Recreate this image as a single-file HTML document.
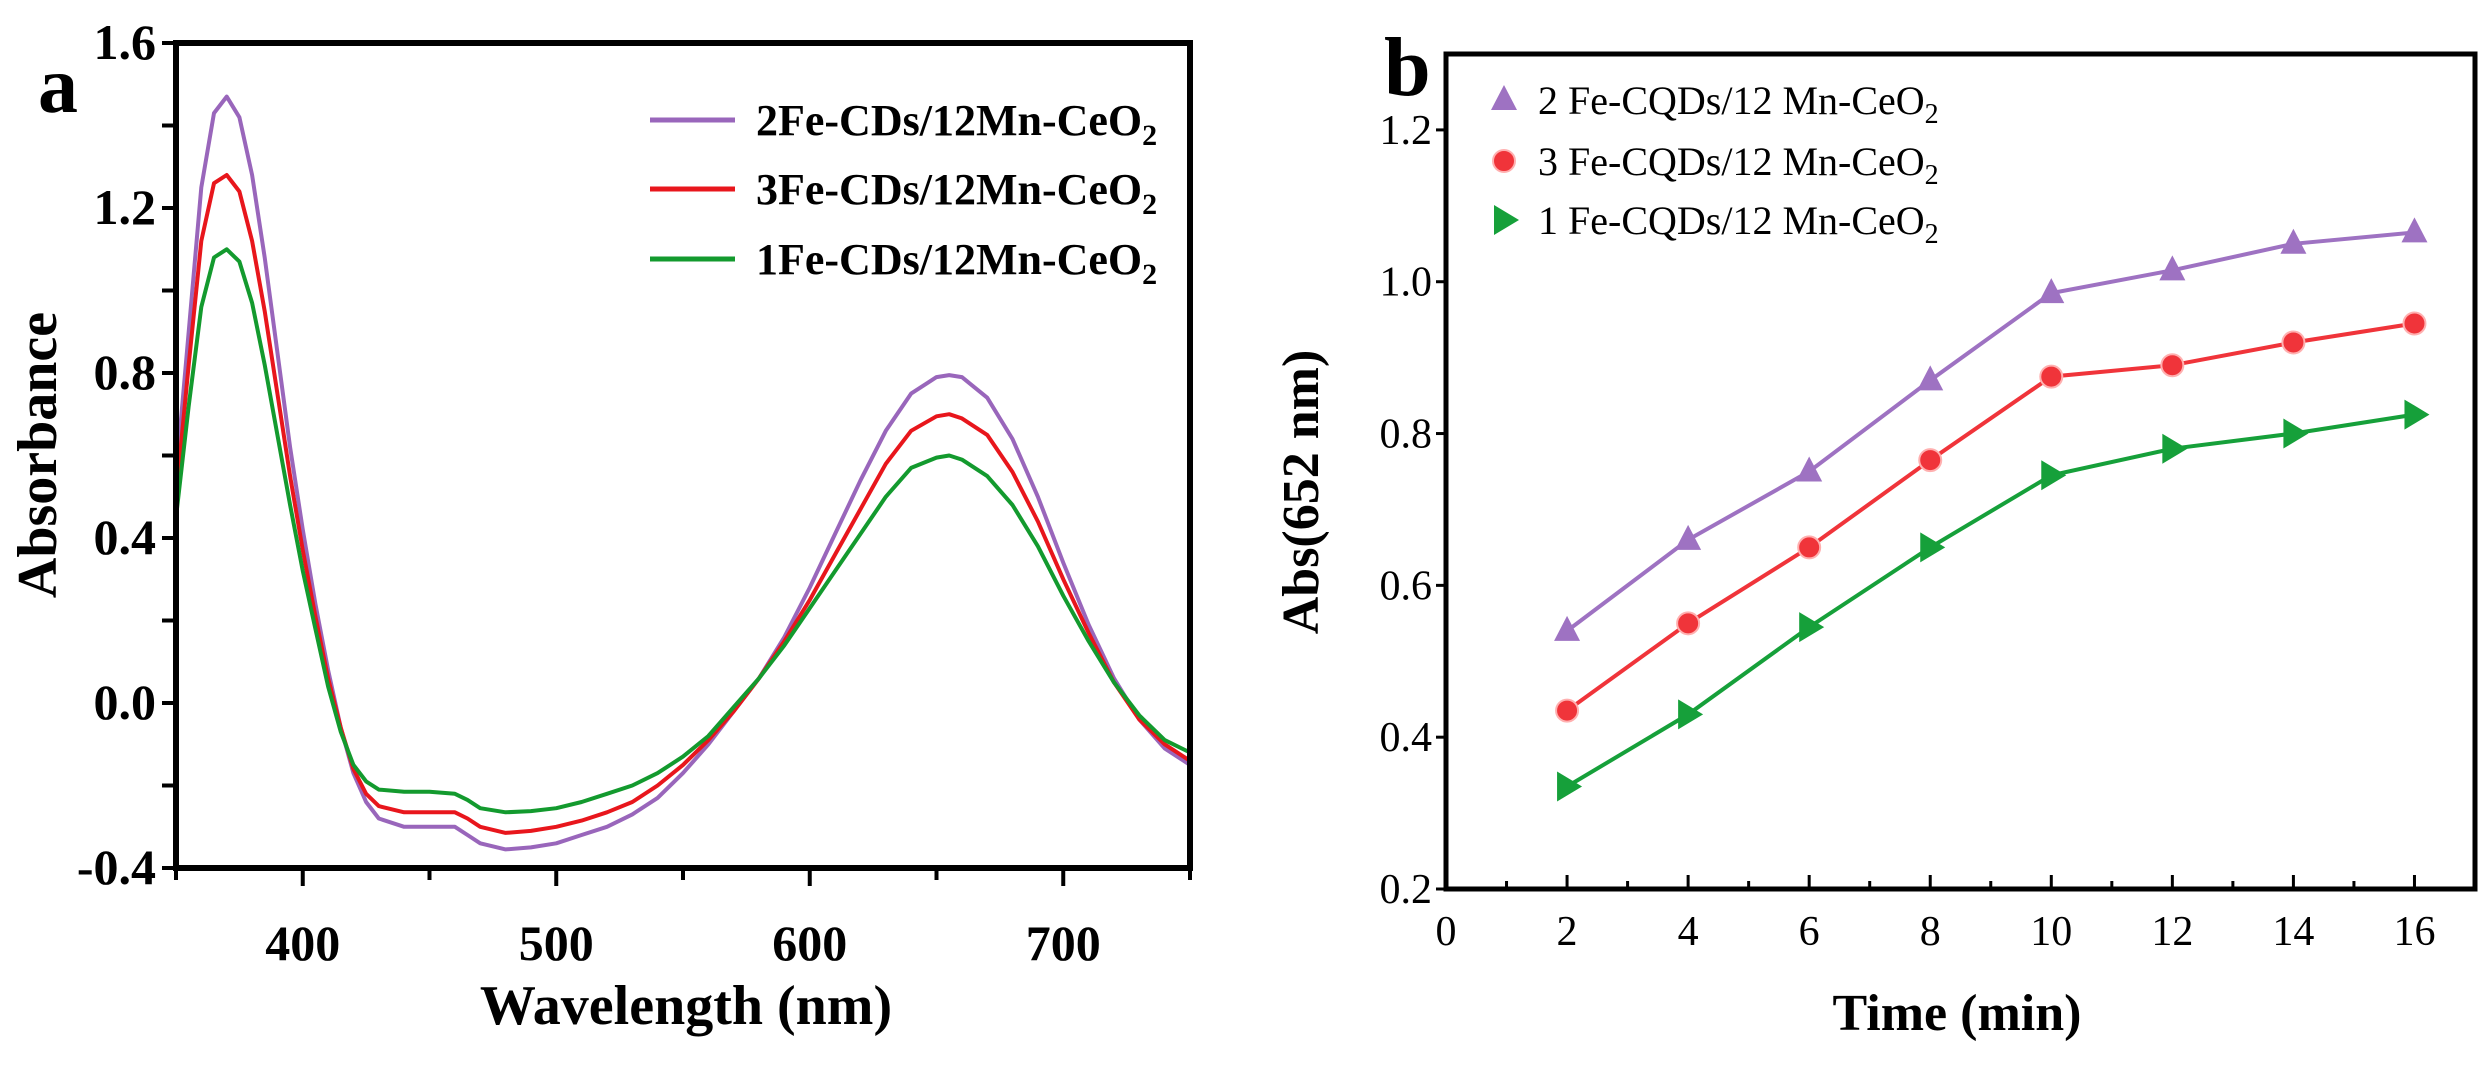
<!DOCTYPE html>
<html><head><meta charset="utf-8"><style>
body{margin:0;background:#fff}
svg{display:block;font-family:"Liberation Serif",serif}
</style></head><body>
<svg id="fig" width="2490" height="1067" viewBox="0 0 2490 1067">
<g id="pa"></g>
<g id="pb"></g>
</svg>
<script>
// ---------- Panel a data ----------
const wl = [350,355,360,365,370,375,380,385,390,395,400,405,410,415,420,425,430,440,450,460,465,470,480,490,500,510,520,530,540,550,560,570,580,590,600,610,620,630,640,650,655,660,670,680,690,700,710,720,730,740,750];
const absPurple = [0.55,0.9,1.25,1.43,1.47,1.42,1.28,1.08,0.85,0.62,0.42,0.24,0.08,-0.06,-0.17,-0.24,-0.28,-0.30,-0.30,-0.30,-0.32,-0.34,-0.355,-0.35,-0.34,-0.32,-0.30,-0.27,-0.23,-0.17,-0.10,-0.02,0.06,0.16,0.28,0.41,0.54,0.66,0.75,0.79,0.795,0.79,0.74,0.64,0.50,0.34,0.19,0.06,-0.04,-0.11,-0.15];
const absRed = [0.50,0.82,1.12,1.26,1.28,1.24,1.12,0.95,0.75,0.55,0.37,0.21,0.06,-0.06,-0.16,-0.22,-0.25,-0.265,-0.265,-0.265,-0.28,-0.30,-0.315,-0.31,-0.30,-0.285,-0.265,-0.24,-0.20,-0.15,-0.09,-0.02,0.06,0.15,0.25,0.36,0.47,0.58,0.66,0.695,0.70,0.69,0.65,0.56,0.44,0.30,0.17,0.05,-0.04,-0.10,-0.14];
const absGreen = [0.45,0.72,0.96,1.08,1.10,1.07,0.97,0.82,0.65,0.48,0.32,0.18,0.04,-0.07,-0.15,-0.19,-0.21,-0.215,-0.215,-0.22,-0.235,-0.255,-0.265,-0.262,-0.255,-0.24,-0.22,-0.20,-0.17,-0.13,-0.08,-0.01,0.06,0.14,0.23,0.32,0.41,0.50,0.57,0.595,0.60,0.59,0.55,0.48,0.38,0.26,0.15,0.05,-0.03,-0.09,-0.12];
const aXTicks = [400,500,600,700];
const aYTicks = [-0.4,0.0,0.4,0.8,1.2,1.6];
// ---------- Panel b data ----------
const times = [2,4,6,8,10,12,14,16];
const b2Fe = [0.54,0.66,0.75,0.87,0.985,1.015,1.05,1.065];
const b3Fe = [0.435,0.55,0.65,0.765,0.875,0.89,0.92,0.945];
const b1Fe = [0.335,0.43,0.545,0.65,0.745,0.78,0.80,0.825];
const bXTicks = [0,2,4,6,8,10,12,14,16];
const bYTicks = [0.2,0.4,0.6,0.8,1.0,1.2];

const NS="http://www.w3.org/2000/svg";
function mk(parent,tag,attrs,text){const e=document.createElementNS(NS,tag);for(const k in attrs)e.setAttribute(k,attrs[k]);if(text!==undefined)e.textContent=text;parent.appendChild(e);return e;}

// ===== Panel a =====
const pa=document.getElementById('pa');
const aL=176,aR=1190,aT=43,aB=868;
const ax=v=>aL+(v-350)/(750-350)*(aR-aL);
const ay=v=>aB-(v+0.4)/(2.0)*(aB-aT);
const aSeries=[[absPurple,'#9966bb','series-2fe'],[absRed,'#e8161c','series-3fe'],[absGreen,'#139a2e','series-1fe']];
aSeries.forEach(s=>{
  const d=wl.map((w,i)=>(i?'L':'M')+ax(w).toFixed(1)+','+ay(s[0][i]).toFixed(1)).join(' ');
  const p=mk(pa,'path',{d:d,fill:'none',stroke:s[1],'stroke-width':4,'stroke-linejoin':'round'});
  
  
});
mk(pa,'rect',{x:aL,y:aT,width:aR-aL,height:aB-aT,fill:'none',stroke:'#000','stroke-width':6,});
for(let w=350;w<=750;w+=50){const t=mk(pa,'line',{x1:ax(w),x2:ax(w),y1:aB,y2:aB+(w%100===0?18:12),stroke:'#000','stroke-width':4});}
aXTicks.forEach(w=>{const t=mk(pa,'text',{x:ax(w),y:aB+92,'font-size':50,'font-weight':'bold','text-anchor':'middle'},String(w));});
for(let v=-0.4;v<=1.61;v+=0.2){const t=mk(pa,'line',{x1:aL-14,x2:aL,y1:ay(v),y2:ay(v),stroke:'#000','stroke-width':4});}
aYTicks.forEach(v=>{const t=mk(pa,'text',{x:aL-20,y:ay(v)+16,'font-size':50,'font-weight':'bold','text-anchor':'end'},(v<0?'-':'')+Math.abs(v).toFixed(1));});
mk(pa,'text',{x:686,y:1024,'font-size':56,'font-weight':'bold','text-anchor':'middle',},'Wavelength (nm)');
mk(pa,'text',{x:0,y:0,'font-size':56,'font-weight':'bold','text-anchor':'middle',transform:'translate(56,455) rotate(-90)',},'Absorbance');
mk(pa,'text',{x:38,y:112,'font-size':80,'font-weight':'bold',},'a');
const aLeg=[['2Fe-CDs/12Mn-CeO','#9966bb',120],['3Fe-CDs/12Mn-CeO','#e8161c',189],['1Fe-CDs/12Mn-CeO','#139a2e',259]];
aLeg.forEach(l=>{
  const g=mk(pa,'g',{});
  
  
  mk(g,'line',{x1:650,x2:735,y1:l[2],y2:l[2],stroke:l[1],'stroke-width':5});
  const t=mk(g,'text',{x:756,y:l[2]+15,'font-size':44,'font-weight':'bold'},l[0]);
  mk(t,'tspan',{'font-size':30,dy:10},'2');
});

// ===== Panel b =====
const pb=document.getElementById('pb');
const bL=1446,bR=2475,bT=54,bB=889;
const bx=v=>bL+v/17*(bR-bL);
const by=v=>bB-(v-0.2)/1.1*(bB-bT);
const bSeries=[[b2Fe,'#9e72c2','tri','series-2fe'],[b3Fe,'#f0343a','circ','series-3fe'],[b1Fe,'#16a03a','right','series-1fe']];
function marker(g,type,x,y,c){
  if(type==='tri')return mk(g,'polygon',{points:`${x},${y-15} ${x-13},${y+10} ${x+13},${y+10}`,fill:c});
  if(type==='circ')return mk(g,'circle',{cx:x,cy:y,r:11,fill:c,stroke:'#ffb0b0','stroke-width':2});
  return mk(g,'polygon',{points:`${x-10},${y-15} ${x+15},${y} ${x-10},${y+15}`,fill:c});
}
bSeries.forEach(s=>{
  const g=mk(pb,'g',{});
  
  
  const pts=times.map((t,i)=>bx(t).toFixed(1)+','+by(s[0][i]).toFixed(1)).join(' ');
  mk(g,'polyline',{points:pts,fill:'none',stroke:s[1],'stroke-width':4});
  times.forEach((t,i)=>{const m=marker(g,s[2],bx(t),by(s[0][i]),s[1]);});
});
mk(pb,'rect',{x:bL,y:bT,width:bR-bL,height:bB-bT,fill:'none',stroke:'#000','stroke-width':5,});
for(let t=0;t<=17;t+=1){const l=mk(pb,'line',{x1:bx(t),x2:bx(t),y1:bB,y2:bB-(t%2===0?14:8),stroke:'#000','stroke-width':3});}
bXTicks.forEach(t=>{const e=mk(pb,'text',{x:bx(t),y:945,'font-size':42,'text-anchor':'middle'},String(t));});
bYTicks.forEach(v=>{
  const l=mk(pb,'line',{x1:bL-10,x2:bL,y1:by(v),y2:by(v),stroke:'#000','stroke-width':3});
  
  
  const e=mk(pb,'text',{x:bL-14,y:by(v)+14,'font-size':42,'text-anchor':'end'},v.toFixed(1));
  
  
});
mk(pb,'text',{x:1957,y:1030,'font-size':52,'font-weight':'bold','text-anchor':'middle',},'Time (min)');
mk(pb,'text',{x:0,y:0,'font-size':52,'font-weight':'bold','text-anchor':'middle',transform:'translate(1318,492) rotate(-90)',},'Abs(652 nm)');
mk(pb,'text',{x:1384,y:95,'font-size':84,'font-weight':'bold',},'b');
const bLeg=[['2 Fe-CQDs/12 Mn-CeO','#9e72c2','tri',100],['3 Fe-CQDs/12 Mn-CeO','#f0343a','circ',161],['1 Fe-CQDs/12 Mn-CeO','#16a03a','right',220]];
bLeg.forEach(l=>{
  const g=mk(pb,'g',{});
  
  
  marker(g,l[2],1504,l[3],l[1]);
  const t=mk(g,'text',{x:1538,y:l[3]+14,'font-size':40},l[0]);
  mk(t,'tspan',{'font-size':28,dy:9},'2');
});
</script>
</body></html>
